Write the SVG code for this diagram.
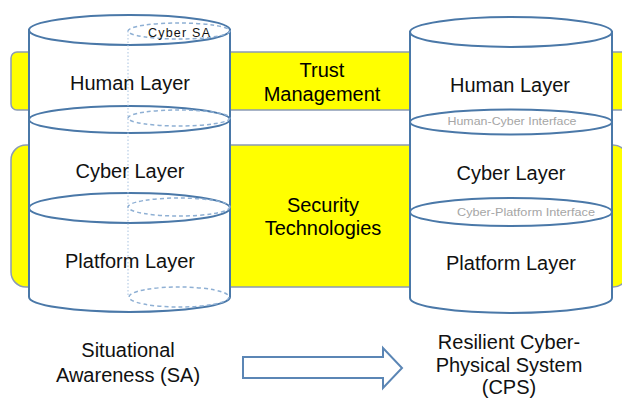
<svg xmlns="http://www.w3.org/2000/svg" width="622" height="399" viewBox="0 0 622 399">
<style>
.band{fill:#ffff00;stroke:#8a9bb5;stroke-width:1.5}
.cyl{fill:#fff;stroke:#4a78a8;stroke-width:2}
.cl{fill:none;stroke:#4a78a8;stroke-width:2}
.dash{fill:none;stroke:#8fb0d4;stroke-width:1.5;stroke-dasharray:4 3}
.dot{fill:none;stroke:#a9c3e0;stroke-width:1;stroke-dasharray:1.5 2}
.t{font-family:"Liberation Sans",Arial,sans-serif;font-size:20px;fill:#111;text-anchor:middle}
.tb{font-family:"Liberation Sans",Arial,sans-serif;font-size:20px;fill:#000;text-anchor:middle}
.if{font-family:"Liberation Sans",Arial,sans-serif;font-size:11.5px;fill:#a6a6a6;text-anchor:middle}
</style>
<rect width="622" height="399" fill="#fff"/>
<g id="trust-band">
<rect class="band" x="11" y="52" width="620" height="58" rx="6"/>
<text class="tb" x="322" y="77">Trust</text>
<text class="tb" x="322" y="101">Management</text>
</g>
<g id="security-band">
<rect class="band" x="11" y="145" width="617" height="142" rx="15"/>
<text class="tb" x="323" y="212">Security</text>
<text class="tb" x="323" y="235">Technologies</text>
</g>
<g id="sa-cylinder">
<path class="cyl" d="M29,30 L29,297 A100.5,15 0 0 0 230,297 L230,30 Z"/>
<ellipse class="cyl" cx="129.5" cy="30" rx="100.5" ry="15"/>
<ellipse class="cl" cx="129.5" cy="119.5" rx="100.5" ry="13.5"/>
<ellipse class="cl" cx="129.5" cy="208" rx="100.5" ry="15"/>
<line class="dot" x1="128" y1="31" x2="128" y2="297"/>
<ellipse class="dash" cx="179" cy="31" rx="51" ry="8"/>
<ellipse class="dash" cx="179" cy="118" rx="51" ry="8"/>
<ellipse class="dash" cx="179" cy="207" rx="51" ry="9"/>
<ellipse class="dash" cx="179" cy="297" rx="50" ry="10"/>
<text x="179" y="37" font-family="'Liberation Sans',Arial,sans-serif" font-size="12.5" fill="#111" text-anchor="middle" textLength="62" lengthAdjust="spacing">Cyber SA</text>
<text class="t" x="130" y="90">Human Layer</text>
<text class="t" x="130" y="178">Cyber Layer</text>
<text class="t" x="130" y="268">Platform Layer</text>
</g>
<g id="cps-cylinder">
<path class="cyl" d="M410,32 L410,298 A101,15 0 0 0 612,298 L612,32 Z"/>
<ellipse class="cyl" cx="511" cy="32" rx="101" ry="15"/>
<ellipse class="cl" cx="511" cy="122" rx="101" ry="12.5"/>
<ellipse class="cl" cx="511" cy="212" rx="101" ry="14"/>
<text class="if" x="512" y="125" textLength="129" lengthAdjust="spacingAndGlyphs">Human-Cyber Interface</text>
<text class="if" x="526" y="216" textLength="138" lengthAdjust="spacingAndGlyphs">Cyber-Platform Interface</text>
<text class="t" x="510" y="92">Human Layer</text>
<text class="t" x="511" y="180">Cyber Layer</text>
<text class="t" x="511" y="270">Platform Layer</text>
</g>
<g id="sa-label">
<text class="t" x="128" y="357">Situational</text>
<text class="t" x="128" y="382">Awareness (SA)</text>
</g>
<g id="cps-label">
<text class="t" x="509" y="349">Resilient Cyber-</text>
<text class="t" x="509" y="372">Physical System</text>
<text class="t" x="509" y="394">(CPS)</text>
</g>
<g id="connectors">
<polygon points="243,357 383,357 383,348 402,368 383,388 383,378 243,378" fill="#fff" stroke="#5b86b5" stroke-width="2" stroke-linejoin="miter"/>
</g>
</svg>
